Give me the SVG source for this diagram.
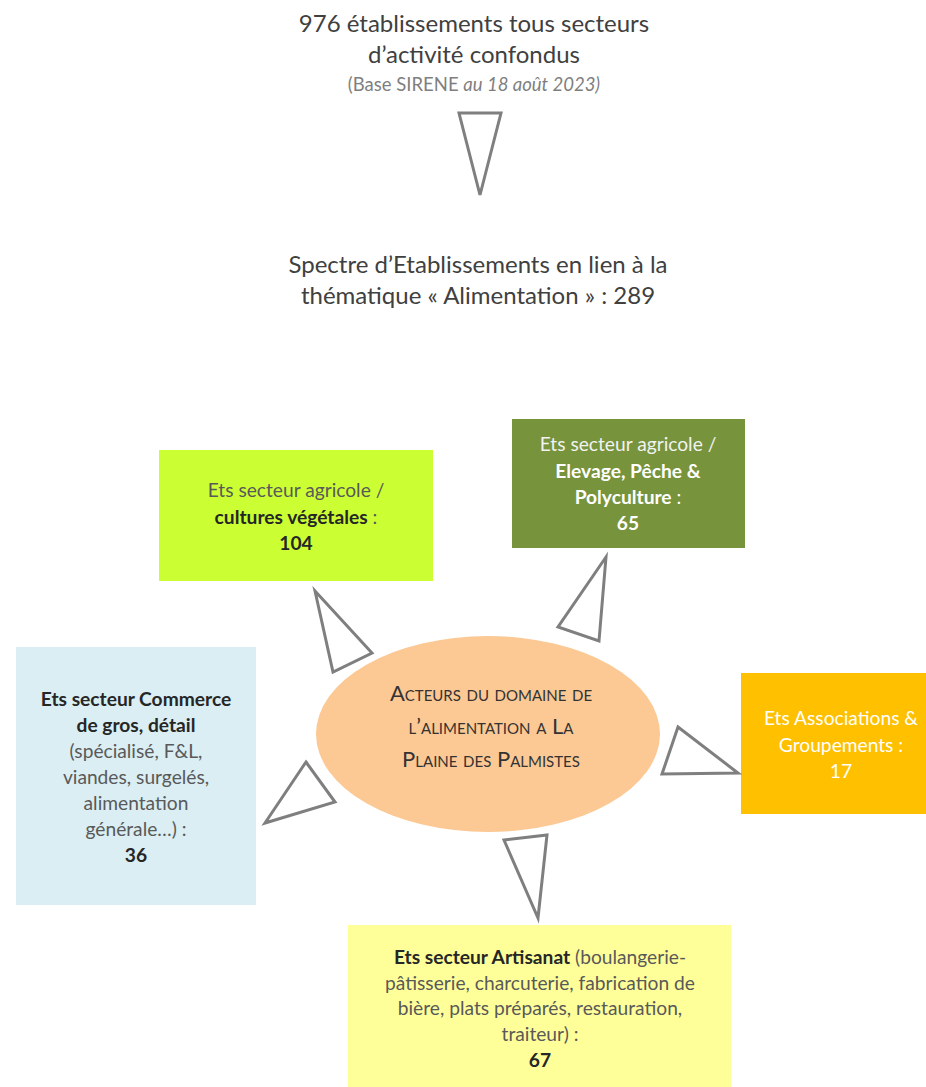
<svg xmlns="http://www.w3.org/2000/svg" width="926" height="1087" viewBox="0 0 926 1087">
<style>
text{font-family:Lato,"Liberation Sans",sans-serif;text-anchor:middle}
.h{font-size:24px;fill:#404040}
.sub{font-size:18.5px;fill:#7f7f7f}
.t{font-size:19.2px;fill:#595959}
.b{font-weight:bold;fill:#262626}
.w{fill:#ffffff}
.wl{fill:#f2f2f2}
.el{font-size:22px;fill:#333333;font-variant:small-caps}
.arr{fill:#ffffff;stroke:#7f7f7f;stroke-width:3;stroke-linejoin:miter}
</style>
<rect width="926" height="1087" fill="#ffffff"/>
<g id="title">
<text class="h" x="474" y="32">976 établissements tous secteurs</text>
<text class="h" x="474" y="63">d’activité confondus</text>
<text class="sub" x="474" y="91">(Base SIRENE <tspan font-style="italic">au 18 août 2023)</tspan></text>
</g>
<g id="spectre">
<text class="h" x="478" y="273">Spectre d’Etablissements en lien à la</text>
<text class="h" x="478" y="304">thématique « Alimentation » : 289</text>
</g>
<g id="center">
<ellipse cx="488" cy="734" rx="172" ry="98" fill="#fcc894"/>
<text class="el" x="491" y="701">Acteurs du domaine de</text>
<text class="el" x="491" y="734">l’alimentation a La</text>
<text class="el" x="491" y="767">Plaine des Palmistes</text>
</g>
<g id="vegetales">
<rect x="159" y="450" width="274" height="131" fill="#ccff33"/>
<text class="t" x="296" y="497">Ets secteur agricole /</text>
<text class="t" x="296" y="524"><tspan class="b">cultures végétales</tspan> :</text>
<text class="t b" x="296" y="550">104</text>
</g>
<g id="elevage">
<rect x="512" y="419" width="233" height="129" fill="#77933c"/>
<text class="t wl" x="628" y="451">Ets secteur agricole /</text>
<text class="t w" x="628" y="478" font-weight="bold">Elevage, Pêche &amp;</text>
<text class="t w" x="628" y="504"><tspan font-weight="bold">Polyculture</tspan> :</text>
<text class="t w" x="628" y="530" font-weight="bold">65</text>
</g>
<g id="commerce">
<rect x="16" y="647" width="240" height="258" fill="#daeef3"/>
<text class="t b" x="136" y="706">Ets secteur Commerce</text>
<text class="t b" x="136" y="732">de gros, détail</text>
<text class="t" x="136" y="758">(spécialisé, F&amp;L,</text>
<text class="t" x="136" y="784">viandes, surgelés,</text>
<text class="t" x="136" y="810">alimentation</text>
<text class="t" x="136" y="836">générale…) :</text>
<text class="t b" x="136" y="862">36</text>
</g>
<g id="associations">
<rect x="741" y="673" width="185" height="141" fill="#ffc000"/>
<text class="t w" x="841" y="725">Ets Associations &amp;</text>
<text class="t w" x="841" y="752">Groupements :</text>
<text class="t w" x="841" y="778">17</text>
</g>
<g id="artisanat">
<rect x="348" y="925" width="383" height="162" fill="#ffff99"/>
<text class="t" x="540" y="964"><tspan class="b">Ets secteur Artisanat</tspan> (boulangerie-</text>
<text class="t" x="540" y="990">pâtisserie, charcuterie, fabrication de</text>
<text class="t" x="540" y="1015">bière, plats préparés, restauration,</text>
<text class="t" x="540" y="1041">traiteur) :</text>
<text class="t b" x="540" y="1067">67</text>
</g>
<g id="connectors">
<polygon class="arr" points="459,113 501,113 480,195"/>
<polygon class="arr" points="315,591 372,653 333,672"/>
<polygon class="arr" points="606,557 558,627 599,641"/>
<polygon class="arr" points="306,762 335,802 265,823"/>
<polygon class="arr" points="678,727 738,773 662,774"/>
<polygon class="arr" points="504,840 547,835 538,918"/>
</g>
</svg>
